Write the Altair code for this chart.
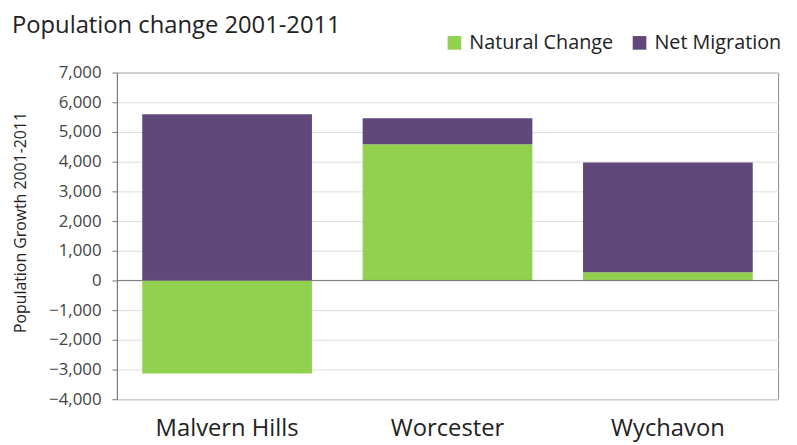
import altair as alt
import pandas as pd

districts = ["Malvern Hills", "Worcester", "Wychavon"]
natural_change = [-3130, 4590, 280]
net_migration = [5600, 870, 3690]
series = ["Natural Change", "Net Migration"]
colors = ["#92D050", "#60497A"]
y_ticks = [-4000, -3000, -2000, -1000, 0, 1000, 2000, 3000, 4000, 5000, 6000, 7000]

rows = []
for d, n, m in zip(districts, natural_change, net_migration):
    rows.append({"District": d, "Component": series[0], "Value": n, "order": 0})
    rows.append({"District": d, "Component": series[1], "Value": m, "order": 1})
df = pd.DataFrame(rows)

W, H = 668, 330
yscale = alt.Scale(domain=[-4000, 7000], nice=False, zero=False)

bars = alt.Chart(df).mark_bar().encode(
    x=alt.X("District:N", sort=districts, title=None,
            scale=alt.Scale(paddingInner=0.23, paddingOuter=0.115),
            axis=alt.Axis(labelAngle=0, ticks=False, domain=False, labelFontSize=24,
                          labelFont="Open Sans", labelColor="#222222", labelPadding=18)),
    y=alt.Y("Value:Q", stack="zero", title="Population Growth 2001-2011",
            scale=yscale,
            axis=alt.Axis(values=y_ticks, format=",d", labelOverlap=False,
                          labelFontSize=17, labelFont="Open Sans", labelColor="#444444",
                          tickSize=5, tickColor="#777777", labelPadding=11,
                          domainColor="#777777", gridColor="#dddddd",
                          titleFontSize=16, titleFont="Open Sans", titleFontWeight="normal",
                          titleColor="#222222", titleX=-97, titleY=151,
                          titleBaseline="middle", titleAngle=270)),
    color=alt.Color("Component:N", scale=alt.Scale(domain=series, range=colors),
                    legend=alt.Legend(title=None, orient="none", direction="horizontal",
                                      legendX=331, legendY=-40, symbolType="square",
                                      symbolSize=190, symbolStrokeWidth=0,
                                      labelFontSize=20, labelFont="Open Sans",
                                      labelColor="#222222", columnPadding=16,
                                      symbolOpacity=1, labelOffset=5)),
    order=alt.Order("order:Q"),
)

zero = alt.Chart(pd.DataFrame({"v": [0]})).mark_rule(color="#777777", strokeWidth=1).encode(
    y=alt.Y("v:Q", scale=yscale, axis=None))

chart = alt.layer(bars, zero).resolve_axis(y="independent").properties(
    width=W, height=H,
    autosize=alt.AutoSizeParams(type="none"),
    padding={"left": 110, "top": 63, "right": 11, "bottom": 44},
    title=alt.TitleParams("Population change 2001-2011", anchor="start", dx=-106,
                          dy=7, offset=2, fontSize=24, font="Open Sans", fontWeight="normal",
                          color="#222222", frame="group"),
).configure_view(stroke="#888888", strokeWidth=1)

chart.save("out.html", embed_options={"renderer": "svg", "actions": False})
